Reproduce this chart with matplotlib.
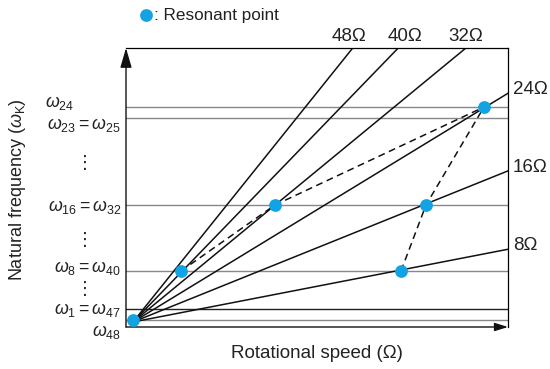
import matplotlib
matplotlib.use("Agg")
import matplotlib.pyplot as plt

plt.rcParams['font.family'] = ['Liberation Sans', 'DejaVu Sans']
plt.rcParams['mathtext.fontset'] = 'custom'
plt.rcParams['mathtext.rm'] = 'Liberation Sans'
plt.rcParams['mathtext.it'] = 'Liberation Sans:italic'

# order lines (slope = frequency per unit speed)
order_labels = ['8Ω', '16Ω', '24Ω', '32Ω', '40Ω', '48Ω']
order_slopes = [0.194, 0.403, 0.610, 0.823, 1.033, 1.247]

# natural frequency levels
freq_labels = [r'$\omega_{48}$', r'$\omega_1 = \omega_{47}$', r'$\omega_8 = \omega_{40}$',
               r'$\omega_{16} = \omega_{32}$', r'$\omega_{23} = \omega_{25}$', r'$\omega_{24}$']
freq_levels = [2, 12.7, 51, 117, 204.3, 215]
freq_colors = ['#888888', '#222222', '#888888', '#888888', '#888888', '#888888']

# resonant points (speed, frequency)
res_speed = [0, 48, 142, 351, 293, 268]
res_freq = [2.5, 51, 117, 215, 117, 51]

# dashed connections
path_a_speed = [48, 142, 351]
path_a_freq = [51, 117, 215]
path_b_speed = [268, 293, 351]
path_b_freq = [51, 117, 215]

speed_max = 375
freq_max = 274

W, H = 550, 369
fig = plt.figure(figsize=(5.5, 3.69), dpi=100)
ax = fig.add_axes([126 / W, 1 - 327 / H, 382 / W, 279 / H])
ax.set_xlim(-7, speed_max)
ax.set_ylim(-5, freq_max)
ax.set_xticks([])
ax.set_yticks([])
for s in ['top', 'right']:
    ax.spines[s].set_linewidth(0.9)
for s in ['left', 'bottom']:
    ax.spines[s].set_visible(False)

# horizontal frequency lines
for lv, c in zip(freq_levels, freq_colors):
    ax.axhline(lv, color=c, lw=1.0, zorder=1)

# order lines from origin
for sl in order_slopes:
    ax.plot([0, speed_max * 2], [0, sl * speed_max * 2], color='#111111', lw=1.1, zorder=2)

ax.plot(path_a_speed, path_a_freq, color='#111111', lw=1.1, ls=(0, (4.5, 3)), zorder=3)
ax.plot(path_b_speed, path_b_freq, color='#111111', lw=1.1, ls=(0, (4.5, 3)), zorder=3)

ax.plot(res_speed, res_freq, 'o', color='#12a3e3', ms=9.2, mec='none', zorder=5, clip_on=False)

# axis arrows
ax.annotate('', xy=(0, 1), xytext=(0, 0), xycoords='axes fraction',
            arrowprops=dict(arrowstyle='-|>,head_length=1.2,head_width=0.35', lw=1.0,
                            color='#111111', shrinkA=0, shrinkB=0))
ax.annotate('', xy=(1, 0), xytext=(0, 0), xycoords='axes fraction',
            arrowprops=dict(arrowstyle='-|>,head_length=0.8,head_width=0.25', lw=1.0,
                            color='#111111', shrinkA=0, shrinkB=0))

fs = 13.5
fm = 12.8
def ftext(x, y, s, **kw):
    fig.text(x / W, 1 - y / H, s, **kw)

# left labels
label_y = [331.7, 310, 268, 206.7, 125, 103]
for lab, y in zip(freq_labels, label_y):
    if lab == r'$\omega_{24}$':
        ftext(45, y, lab, fontsize=fm, ha='left', va='center', color='#222222')
    else:
        ftext(121, y, lab, fontsize=fm, ha='right', va='center', color='#222222')
for y in [163, 240, 289]:
    ftext(85, y, '⋮', fontsize=13, ha='center', va='center', color='#222222',
          family=['DejaVu Sans'])

# order labels
top_pos = {'48Ω': 349, '40Ω': 405.5, '32Ω': 465.7}
for lab, x in top_pos.items():
    ftext(x, 36.5, lab, fontsize=fs, ha='center', va='center', color='#222222')
right_pos = {'24Ω': 90, '16Ω': 168, '8Ω': 246}
for lab, y in right_pos.items():
    ftext(513, y, lab, fontsize=fs, ha='left', va='center', color='#222222')

# legend
fig.add_artist(plt.Line2D([146.3 / W], [1 - 15.3 / H], marker='o', ms=9.2, color='#12a3e3',
                          mec='none', transform=fig.transFigure))
ftext(154, 15.3, ': Resonant point', fontsize=12.3, ha='left', va='center', color='#222222')

# axis titles
ftext(317, 354, 'Rotational speed (Ω)', fontsize=fs, ha='center', va='center', color='#222222')
ftext(18, 190, r'Natural frequency ($\omega_{\rm K}$)', fontsize=13, ha='center', va='center',
      rotation=90, color='#222222')

fig.savefig('out.png', dpi=100)
